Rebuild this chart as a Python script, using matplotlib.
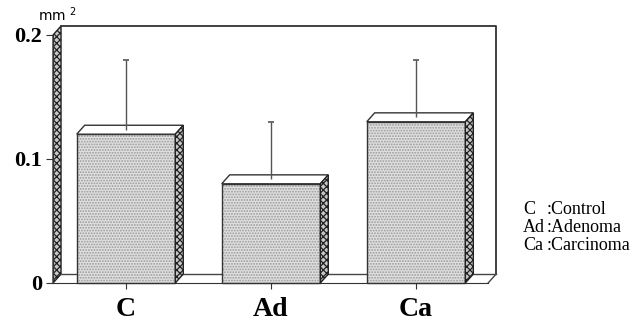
import matplotlib.pyplot as plt
from matplotlib.patches import Polygon

plt.rcParams['mathtext.default'] = 'regular'
plt.rcParams['hatch.linewidth'] = 0.9

# data
groups = ["C", "Ad", "Ca"]
means = [0.12, 0.08, 0.13]
sds = [0.06, 0.05, 0.05]
legend_abbr = ["C", "Ad", "Ca"]
legend_names = [":Control", ":Adenoma", ":Carcinoma"]
yticks = [0, 0.1, 0.2]
ytick_labels = ["0", "0.1", "0.2"]

# 3d look: depth offsets in data units
dx, dy = 0.055, 0.0072
x0, x1 = -0.503, 2.497
width = 0.68
ytop = 0.2

fig = plt.figure(figsize=(6.33, 3.22), dpi=100)
ax = fig.add_axes([0.0632, 0.0994, 0.7425, 0.854])
ax.set_xlim(-0.593, 2.648)
ax.set_ylim(-0.00565, 0.2161)

pos = list(range(len(groups)))

# left wall (hatched strip)
ax.add_patch(Polygon([(x0, 0), (x0, ytop), (x0 + dx, ytop + dy), (x0 + dx, dy)],
                     closed=True, facecolor="#c8c8c8", edgecolor="#222222", hatch="xxxxx",
                     linewidth=1, zorder=1))
# back wall and floor lines
ax.plot([x0 + dx, x1 + dx, x1 + dx], [ytop + dy, ytop + dy, dy], color="#333333", lw=1.3, zorder=1)
ax.plot([x0 + dx, x1 + dx], [dy, dy], color="#444444", lw=1, zorder=1)
ax.plot([x1, x1 + dx], [0, dy], color="#444444", lw=1, zorder=1)

# bars: front face
ax.bar(pos, means, width, color="#e0e0e0", hatch="......", edgecolor="#999999", linewidth=0, zorder=3)
ax.bar(pos, means, width, fill=False, edgecolor="#333333", linewidth=1, zorder=4)

for p, m in zip(pos, means):
    l, r = p - width / 2, p + width / 2
    # top face
    ax.add_patch(Polygon([(l, m), (l + dx, m + dy), (r + dx, m + dy), (r, m)],
                         closed=True, facecolor="white", edgecolor="#333333", linewidth=1, zorder=4))
    # side face
    ax.add_patch(Polygon([(r, 0), (r, m), (r + dx, m + dy), (r + dx, dy)],
                         closed=True, facecolor="#c8c8c8", edgecolor="#222222", hatch="xxxxx",
                         linewidth=1, zorder=4))

# error bars (upper only, from top face)
for p, m, s in zip(pos, means, sds):
    ax.vlines(p, m + dy / 2, m + s, color="#555555", lw=1, zorder=5)
    ax.hlines(m + s, p - 0.02, p + 0.02, color="#555555", lw=1.2, zorder=5)

# axes
for side in ["top", "right"]:
    ax.spines[side].set_visible(False)
ax.spines["left"].set_position(("data", x0))
ax.spines["left"].set_bounds(0, ytop)
ax.spines["bottom"].set_position(("data", 0))
ax.spines["bottom"].set_bounds(x0, x1)
ax.spines["left"].set_color("#333333")
ax.spines["bottom"].set_color("#333333")
ax.spines["left"].set_zorder(6)

ax.set_yticks(yticks)
ax.set_yticklabels(ytick_labels, family="Liberation Serif", fontsize=16, fontweight="bold")
ax.set_xticks(pos)
ax.set_xticklabels(groups, family="Liberation Serif", fontsize=20, fontweight="bold")
ax.tick_params(axis="y", length=5, pad=3, color="#333333")
ax.tick_params(axis="x", length=4, pad=6, color="#333333")

fig.text(38 / 633, 1 - 15 / 322, "mm $^{2}$", fontsize=10, family="DejaVu Sans", va="center")

for i, (a, n) in enumerate(zip(legend_abbr, legend_names)):
    y = 1 - (210 + 17.5 * i) / 322
    fig.text(523 / 633, y, a, family="Liberation Serif", fontsize=13, va="center")
    fig.text(547 / 633, y, n, family="Liberation Serif", fontsize=13, va="center")

fig.savefig("out.png", dpi=100)
